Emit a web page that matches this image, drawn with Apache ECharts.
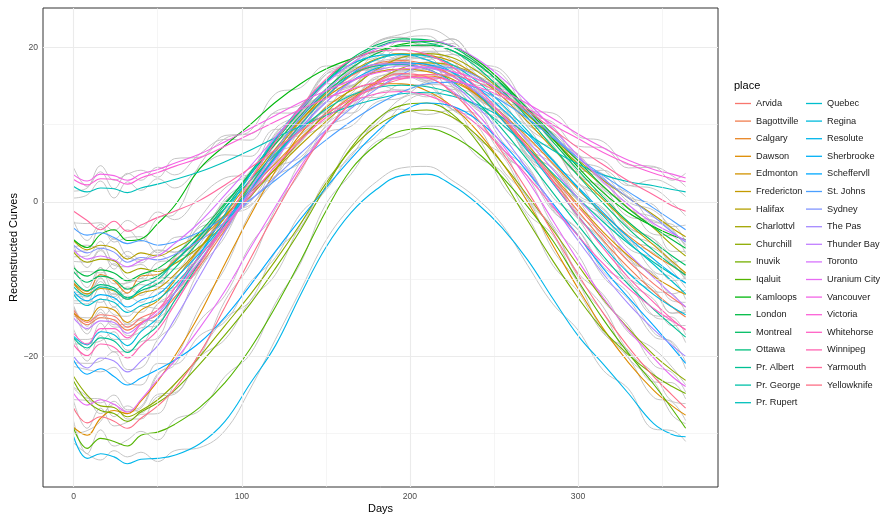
<!DOCTYPE html>
<html>
<head>
<meta charset="utf-8">
<title>Reconstructed Curves</title>
<script src="https://cdn.jsdelivr.net/npm/echarts@6/dist/echarts.min.js"></script>
<style>
  html, body { margin: 0; padding: 0; background: #fff; }
  #chart { width: 881px; height: 514px; }
</style>
</head>
<body>
<div id="chart"></div>
<script>
// day grid shared by every curve
const days = [0, 8, 16, 24, 32, 40, 50, 60, 75, 90, 105, 120, 135, 150, 165, 180, 195, 210, 225, 240, 255, 270, 285, 300, 315, 330, 345, 356, 364];

const places = ['Arvida', 'Bagottville', 'Calgary', 'Dawson', 'Edmonton', 'Fredericton', 'Halifax', 'Charlottvl', 'Churchill',
  'Inuvik', 'Iqaluit', 'Kamloops', 'London', 'Montreal', 'Ottawa', 'Pr. Albert', 'Pr. George', 'Pr. Rupert',
  'Quebec', 'Regina', 'Resolute', 'Sherbrooke', 'Scheffervll', 'St. Johns', 'Sydney', 'The Pas', 'Thunder Bay',
  'Toronto', 'Uranium City', 'Vancouver', 'Victoria', 'Whitehorse', 'Winnipeg', 'Yarmouth', 'Yellowknife'];

const xTicks = [0, 100, 200, 300];
const xMinor = [50, 150, 250, 350];
const yTicks = [-20, 0, 20];
const yMinor = [-30, -10, 10];

// reconstructed curves (coloured)
const arvida = [-14.0, -15.6, -14.6, -14.8, -16.2, -15.0, -14.0, -11.8, -7.8, -3.2, 1.5, 6.0, 10.1, 13.6, 16.3, 17.7, 18.1, 17.6, 16.3, 13.9, 10.7, 7.1, 3.2, -0.6, -4.3, -7.7, -10.6, -12.4, -13.6];
const bagottville = [-14.4, -15.9, -15.0, -15.3, -16.6, -15.6, -14.6, -12.4, -8.3, -3.6, 1.2, 5.8, 10.0, 13.6, 16.4, 17.9, 18.3, 17.8, 16.4, 13.9, 10.6, 6.8, 2.8, -1.2, -5.0, -8.5, -11.6, -13.6, -14.9];
const calgary = [-10.5, -11.6, -9.4, -10.2, -11.8, -9.6, -9.4, -7.6, -4.8, -1.8, 1.6, 5.0, 8.3, 11.2, 13.6, 15.3, 16.2, 16.3, 15.6, 13.9, 11.4, 8.4, 5.0, 1.6, -1.6, -4.4, -6.8, -8.3, -9.4];
const dawson = [-29.2, -30.2, -28.0, -27.0, -27.4, -25.8, -23.2, -20.0, -14.5, -8.0, -1.8, 4.0, 8.8, 12.2, 14.4, 15.3, 15.3, 14.4, 12.4, 9.2, 5.0, 0.0, -5.6, -11.2, -16.4, -20.8, -24.4, -26.4, -27.6];
const edmonton = [-14.4, -15.4, -13.6, -14.0, -15.6, -14.0, -12.8, -10.2, -6.0, -1.6, 2.8, 6.9, 10.6, 13.5, 15.6, 16.8, 17.2, 16.9, 15.9, 13.8, 10.9, 7.4, 3.5, -0.3, -3.9, -7.0, -9.6, -11.1, -12.0];
const fredericton = [-10.6, -11.9, -11.2, -11.5, -12.6, -11.8, -11.2, -9.4, -6.0, -2.0, 2.2, 6.5, 10.5, 14.0, 16.8, 18.5, 19.2, 19.0, 18.2, 16.3, 13.6, 10.4, 6.9, 3.5, 0.3, -2.8, -5.6, -7.7, -9.2];
const halifax = [-5.0, -6.2, -5.6, -6.0, -7.4, -6.6, -7.0, -6.0, -4.2, -1.7, 1.2, 4.2, 7.4, 10.4, 13.2, 15.6, 17.3, 18.0, 17.7, 16.3, 14.0, 11.3, 8.3, 5.4, 2.8, 0.5, -1.7, -3.4, -4.5];
const charlottvl = [-6.5, -7.8, -7.4, -7.6, -9.2, -8.6, -9.0, -8.0, -5.8, -2.8, 0.7, 4.3, 8.0, 11.5, 14.6, 17.1, 18.7, 19.2, 18.7, 16.9, 14.3, 11.3, 8.1, 4.9, 2.0, -0.8, -3.4, -5.6, -7.0];
const churchill = [-22.6, -25.0, -26.4, -26.6, -27.8, -27.0, -25.6, -23.6, -20.0, -16.0, -12.0, -7.6, -2.8, 2.4, 6.8, 9.8, 11.5, 11.9, 11.0, 8.6, 5.0, 0.8, -3.6, -8.2, -12.6, -16.4, -19.8, -21.8, -23.1];
const inuvik = [-23.2, -25.8, -27.0, -27.4, -28.4, -27.2, -26.0, -24.4, -21.0, -17.2, -13.2, -8.6, -3.6, 2.0, 7.0, 10.6, 12.5, 12.8, 11.4, 7.8, 3.0, -2.4, -7.6, -12.4, -16.6, -19.8, -22.4, -23.9, -24.8];
const iqaluit = [-29.3, -31.9, -30.6, -31.0, -31.6, -30.2, -29.8, -28.8, -26.6, -23.4, -19.0, -13.6, -7.6, -1.2, 4.2, 7.4, 9.2, 9.5, 8.5, 6.4, 3.2, -0.6, -5.0, -10.2, -15.2, -19.6, -23.6, -26.8, -29.3];
const kamloops = [-4.9, -5.9, -4.2, -3.6, -5.0, -4.8, -2.8, -0.5, 4.3, 7.3, 10.0, 12.9, 15.3, 17.2, 18.5, 19.5, 20.4, 20.8, 20.2, 18.3, 15.5, 12.0, 8.2, 4.5, 1.2, -1.4, -3.2, -4.3, -4.9];
const london = [-8.5, -9.6, -8.8, -9.2, -10.2, -9.4, -8.6, -7.0, -3.9, -0.2, 3.6, 7.5, 11.2, 14.6, 17.3, 19.2, 20.2, 20.3, 19.6, 17.8, 15.2, 12.1, 8.7, 5.3, 2.0, -0.9, -3.3, -4.9, -6.0];
const montreal = [-9.0, -10.4, -9.6, -10.0, -11.3, -10.4, -9.6, -7.8, -4.5, -0.4, 3.8, 8.0, 12.0, 15.6, 18.5, 20.3, 21.1, 21.0, 20.1, 18.0, 15.1, 11.6, 7.8, 4.1, 0.6, -2.6, -5.2, -7.0, -8.2];
const ottawa = [-10.1, -11.5, -10.7, -11.1, -12.4, -11.5, -10.6, -8.6, -5.0, -0.8, 3.5, 7.8, 11.8, 15.4, 18.3, 20.0, 20.8, 20.6, 19.6, 17.4, 14.4, 10.9, 7.1, 3.4, -0.2, -3.5, -6.3, -8.2, -9.5];
const prAlbert = [-17.6, -18.9, -17.6, -18.0, -19.5, -17.8, -16.0, -12.8, -7.8, -2.8, 2.1, 6.7, 10.9, 14.2, 16.5, 17.6, 17.8, 17.2, 15.6, 12.9, 9.4, 5.4, 1.2, -3.0, -7.0, -10.7, -13.9, -16.0, -17.5];
const prGeorge = [-11.0, -12.2, -11.0, -11.4, -12.6, -11.2, -10.0, -7.8, -4.4, -0.8, 2.8, 6.2, 9.4, 12.0, 13.8, 14.8, 15.1, 14.9, 14.1, 12.4, 10.0, 7.0, 3.7, 0.5, -2.6, -5.4, -7.8, -9.4, -10.5];
const prRupert = [2.0, 1.3, 1.8, 1.7, 1.2, 1.8, 2.3, 2.9, 3.9, 5.2, 6.7, 8.3, 9.8, 11.2, 12.4, 13.3, 14.0, 14.2, 13.7, 12.6, 10.9, 8.8, 6.7, 4.9, 3.5, 2.6, 2.1, 1.6, 1.3];
const quebec = [-12.0, -13.4, -12.6, -13.0, -14.3, -13.4, -12.6, -10.7, -7.1, -2.9, 1.5, 5.9, 10.0, 13.6, 16.5, 18.4, 19.1, 18.9, 17.8, 15.6, 12.6, 9.2, 5.4, 1.8, -1.8, -5.2, -8.1, -10.3, -11.9];
const regina = [-17.4, -18.5, -16.8, -17.2, -18.6, -16.8, -15.0, -11.8, -6.8, -1.6, 3.5, 8.2, 12.3, 15.6, 17.8, 18.9, 19.1, 18.4, 16.8, 14.1, 10.6, 6.6, 2.4, -1.8, -5.7, -9.2, -12.0, -13.6, -14.6];
const resolute = [-30.4, -33.2, -32.6, -33.0, -33.9, -33.3, -33.2, -32.8, -31.3, -28.4, -23.5, -18.6, -12.0, -5.9, -1.4, 1.6, 3.4, 3.6, 2.2, -0.2, -3.4, -7.5, -12.5, -17.3, -21.0, -24.8, -28.7, -30.1, -30.4];
const sherbrooke = [-11.6, -12.8, -12.0, -12.4, -13.6, -12.7, -12.0, -10.0, -6.6, -2.6, 1.6, 5.7, 9.6, 12.9, 15.6, 17.3, 18.0, 17.8, 16.8, 14.8, 12.0, 8.8, 5.3, 1.9, -1.4, -4.6, -7.4, -9.3, -10.5];
const scheffervll = [-20.5, -22.3, -21.6, -22.6, -23.7, -22.8, -21.7, -20.5, -18.2, -14.9, -10.8, -6.4, -2.2, 1.8, 5.6, 9.0, 11.6, 12.8, 12.4, 10.6, 7.6, 3.9, -0.2, -4.4, -8.6, -12.4, -16.0, -18.8, -20.9];
const stJohns = [-3.4, -4.3, -4.0, -4.6, -5.4, -5.0, -5.6, -5.2, -3.9, -2.0, 0.3, 2.8, 5.4, 8.0, 10.4, 12.5, 14.2, 15.3, 15.5, 14.7, 13.0, 10.8, 8.3, 5.7, 3.4, 1.3, -0.8, -2.4, -3.6];
const sydney = [-5.6, -6.6, -6.0, -6.5, -7.8, -7.2, -7.5, -6.8, -5.0, -2.6, 0.2, 3.2, 6.3, 9.3, 12.1, 14.6, 16.5, 17.5, 17.4, 16.2, 14.1, 11.5, 8.6, 5.7, 3.0, 0.5, -1.9, -3.9, -5.2];
const thePas = [-20.0, -21.5, -20.2, -20.6, -22.0, -20.6, -18.6, -15.2, -9.6, -3.9, 1.6, 6.6, 11.0, 14.5, 16.8, 17.8, 17.9, 17.2, 15.4, 12.4, 8.6, 4.2, -0.4, -5.0, -9.3, -13.2, -16.5, -18.6, -20.0];
const thunderBay = [-15.0, -16.4, -15.4, -15.6, -17.0, -15.8, -14.4, -11.8, -7.6, -3.2, 1.2, 5.5, 9.5, 12.9, 15.5, 17.0, 17.6, 17.4, 16.3, 14.2, 11.3, 7.9, 4.2, 0.5, -3.2, -6.7, -9.8, -12.0, -13.6];
const toronto = [-6.2, -7.4, -7.0, -7.5, -8.4, -7.6, -7.0, -5.4, -2.6, 0.9, 4.6, 8.4, 12.0, 15.3, 17.9, 19.8, 20.8, 20.9, 20.2, 18.5, 16.0, 12.9, 9.5, 6.0, 2.6, -0.4, -2.8, -4.1, -5.0];
const uraniumCity = [-24.8, -26.3, -25.6, -26.2, -27.2, -25.6, -23.0, -20.6, -16.3, -11.5, -6.0, -0.6, 4.6, 9.2, 12.8, 15.2, 16.2, 16.0, 14.4, 11.4, 7.4, 2.8, -2.4, -7.6, -12.4, -16.6, -20.2, -22.6, -23.9];
const vancouver = [3.5, 2.7, 3.6, 3.4, 2.8, 3.6, 4.2, 5.0, 6.2, 7.8, 9.5, 11.2, 12.9, 14.4, 15.7, 16.7, 17.2, 17.4, 16.9, 15.9, 14.4, 12.7, 10.8, 8.8, 7.0, 5.4, 4.2, 3.6, 3.1];
const victoria = [2.9, 2.2, 3.0, 2.9, 2.3, 3.1, 3.8, 4.6, 5.7, 7.2, 8.8, 10.4, 12.0, 13.4, 14.6, 15.5, 16.0, 16.1, 15.7, 14.9, 13.6, 12.1, 10.0, 8.2, 6.4, 4.9, 3.7, 3.0, 2.6];
const whitehorse = [-17.0, -18.4, -16.4, -16.4, -17.6, -15.8, -14.0, -11.2, -7.0, -3.2, 0.8, 4.6, 8.0, 10.9, 12.9, 14.0, 14.3, 13.8, 12.4, 10.0, 6.9, 3.3, -0.6, -4.4, -8.0, -11.2, -13.8, -15.4, -16.5];
const winnipeg = [-18.5, -19.9, -18.4, -18.8, -20.2, -18.6, -16.6, -13.3, -8.0, -2.6, 2.8, 7.8, 12.3, 15.9, 18.4, 19.5, 19.7, 19.1, 17.5, 14.8, 11.2, 7.0, 2.6, -1.8, -6.0, -9.8, -13.0, -15.2, -16.6];
const yarmouth = [-1.2, -2.4, -3.6, -2.5, -3.8, -3.0, -2.0, -1.2, 0.2, 2.2, 4.4, 6.8, 9.2, 11.4, 13.3, 14.8, 15.9, 16.5, 16.4, 15.5, 13.9, 11.8, 9.4, 7.0, 4.8, 2.7, 0.9, -0.5, -1.2];
const yellowknife = [-26.7, -28.6, -27.8, -28.4, -29.3, -28.0, -26.4, -24.2, -19.6, -13.6, -7.4, -1.4, 4.2, 9.0, 12.9, 15.5, 16.6, 16.2, 14.2, 10.8, 6.4, 1.4, -4.0, -9.4, -14.4, -18.8, -22.6, -25.0, -26.7];

// observed curves (grey, drawn underneath)
const arvidaObs = [-14.8, -15.0, -15.0, -13.6, -15.9, -15.9, -13.2, -12.3, -6.9, -3.8, 1.9, 5.2, 10.8, 13.3, 16.9, 17.2, 19.0, 18.8, 15.9, 14.6, 9.9, 7.6, 2.6, 0.2, -4.7, -7.1, -11.5, -11.9, -14.3];
const bagottvilleObs = [-13.5, -16.6, -13.9, -15.9, -15.8, -15.1, -15.6, -11.8, -8.7, -2.8, 0.5, 6.3, 9.7, 14.5, 15.8, 18.3, 17.6, 18.1, 17.2, 13.4, 11.2, 5.9, 3.5, -1.5, -4.2, -9.1, -11.2, -14.4, -14.3];
const calgaryObs = [-12.0, -12.0, -8.5, -11.4, -10.4, -9.9, -8.7, -8.7, -4.3, -0.9, 0.8, 6.1, 7.8, 11.6, 12.7, 16.0, 16.7, 15.7, 16.5, 13.5, 12.4, 7.7, 5.3, 0.6, -1.0, -4.9, -6.0, -7.9, -10.0];
const dawsonObs = [-30.0, -29.6, -28.4, -25.8, -27.1, -26.7, -22.4, -20.5, -13.6, -8.6, -1.4, 3.2, 9.5, 11.9, 15.0, 14.8, 16.2, 15.6, 12.0, 9.9, 4.2, 0.5, -6.2, -10.4, -16.8, -20.2, -25.3, -25.9, -28.3];
const edmontonObs = [-13.5, -16.1, -12.5, -14.6, -14.8, -13.5, -13.8, -9.6, -6.4, -0.8, 2.1, 7.4, 10.3, 14.4, 15.0, 17.2, 16.5, 17.2, 16.7, 13.3, 11.5, 6.5, 4.2, -0.6, -3.1, -7.6, -9.2, -11.9, -11.4];
const frederictonObs = [-12.1, -12.3, -10.3, -12.7, -11.2, -12.1, -10.5, -10.5, -5.5, -1.1, 1.4, 7.6, 10.0, 14.4, 15.9, 19.2, 19.7, 18.4, 19.1, 15.9, 14.6, 9.7, 7.2, 2.5, 0.9, -3.3, -4.8, -7.3, -9.8];
const halifaxObs = [-5.8, -5.6, -6.0, -4.8, -7.1, -7.5, -6.2, -6.5, -3.3, -2.3, 1.6, 3.4, 8.1, 10.1, 13.8, 15.1, 18.2, 19.2, 17.3, 17.0, 13.2, 11.8, 7.7, 6.2, 2.4, 1.1, -2.6, -2.9, -5.2];
const charlottvlObs = [-5.6, -8.5, -6.3, -8.2, -8.4, -8.1, -10.0, -7.4, -6.2, -2.0, 0.0, 4.8, 7.7, 12.4, 14.0, 17.5, 18.0, 19.5, 19.5, 16.4, 14.9, 10.4, 8.8, 4.6, 2.8, -1.4, -3.0, -6.4, -6.4];
const churchillObs = [-24.1, -25.4, -25.5, -27.8, -26.4, -27.3, -24.9, -24.7, -19.5, -15.1, -12.8, -6.5, -3.3, 2.8, 5.9, 10.5, 12.0, 11.3, 11.9, 8.2, 6.0, 0.1, -3.3, -9.2, -12.0, -16.9, -19.0, -21.4, -23.7];
const inuvikObs = [-24.0, -25.2, -27.4, -26.2, -28.1, -28.1, -25.2, -24.9, -20.1, -17.8, -12.8, -9.4, -2.9, 1.7, 7.6, 10.1, 13.4, 14.0, 11.0, 8.5, 2.2, -1.9, -8.2, -11.6, -17.0, -19.2, -23.3, -23.4, -25.5];
const iqaluitObs = [-28.4, -32.6, -29.5, -31.6, -30.8, -29.7, -30.8, -28.2, -27.0, -22.6, -19.7, -13.1, -7.9, -0.3, 3.6, 7.8, 8.5, 9.8, 9.3, 5.9, 3.8, -1.5, -4.3, -10.5, -14.4, -20.2, -23.2, -27.6, -28.7];
const kamloopsObs = [-6.4, -6.3, -3.3, -4.8, -3.6, -5.1, -2.1, -1.6, 4.8, 8.2, 9.2, 14.0, 14.8, 17.6, 17.6, 20.2, 20.9, 20.2, 21.1, 17.9, 16.5, 11.3, 8.5, 3.5, 1.8, -1.9, -2.4, -3.9, -5.5];
const londonObs = [-9.3, -9.0, -9.2, -8.0, -9.9, -10.3, -7.8, -7.5, -3.0, -0.8, 4.0, 6.7, 11.9, 14.3, 17.9, 18.7, 21.1, 21.5, 19.2, 18.5, 14.4, 12.6, 8.1, 6.1, 1.6, -0.3, -4.2, -4.4, -6.7];
const montrealObs = [-8.1, -11.1, -8.5, -10.6, -10.5, -9.9, -10.6, -7.2, -4.9, 0.4, 3.1, 8.5, 11.7, 16.5, 17.9, 20.7, 21.7, 22.4, 20.9, 17.5, 15.7, 10.7, 8.5, 3.8, 1.4, -3.2, -4.8, -7.8, -7.6];
const ottawaObs = [-11.6, -11.9, -9.8, -12.3, -11.0, -11.8, -9.9, -9.7, -4.5, 0.1, 2.7, 8.9, 11.3, 15.8, 17.4, 20.7, 21.3, 20.0, 20.5, 17.0, 15.4, 10.2, 7.4, 2.4, 0.4, -4.0, -5.5, -7.8, -10.1];
const prAlbertObs = [-18.4, -18.3, -18.0, -16.8, -19.2, -18.7, -15.2, -13.3, -6.9, -3.4, 2.5, 5.9, 11.6, 13.9, 17.1, 17.1, 18.7, 18.4, 15.2, 13.6, 8.6, 5.9, 0.6, -2.2, -7.4, -10.1, -14.8, -15.5, -18.2];
const prGeorgeObs = [-10.1, -12.9, -9.9, -12.0, -11.8, -10.7, -11.0, -7.2, -4.8, 0.0, 2.1, 6.7, 9.1, 12.9, 13.2, 15.2, 14.4, 15.2, 14.9, 11.9, 10.6, 6.1, 4.4, 0.2, -1.8, -6.0, -7.4, -10.2, -9.9];
const prRupertObs = [0.5, 0.9, 2.7, 0.5, 2.6, 1.5, 3.0, 1.8, 4.4, 6.1, 5.9, 9.4, 9.3, 11.6, 11.5, 14.0, 14.5, 13.6, 14.6, 12.2, 11.9, 8.1, 7.0, 3.9, 4.1, 2.1, 2.9, 2.0, 0.7];
const quebecObs = [-12.8, -12.8, -13.0, -11.8, -14.0, -14.3, -11.8, -11.2, -6.2, -3.5, 1.9, 5.1, 10.7, 13.3, 17.1, 17.9, 20.0, 20.1, 17.4, 16.3, 11.8, 9.7, 4.8, 2.6, -2.2, -4.6, -9.0, -9.8, -12.6];
const reginaObs = [-16.5, -19.2, -15.7, -17.8, -17.8, -16.3, -16.0, -11.2, -7.2, -0.8, 2.8, 8.7, 12.0, 16.5, 17.2, 19.3, 18.4, 18.7, 17.6, 13.6, 11.2, 5.7, 3.1, -2.1, -4.9, -9.8, -11.6, -14.4, -14.0];
const resoluteObs = [-31.2, -32.6, -33.4, -32.2, -33.0, -32.4, -33.6, -32.2, -31.8, -29.6, -24.2, -17.8, -11.4, -5.0, -0.6, 2.6, 4.4, 4.6, 2.8, 0.4, -3.0, -8.2, -13.2, -16.6, -21.8, -24.2, -29.4, -29.6, -31.0];
const sherbrookeObs = [-13.1, -13.2, -11.1, -13.6, -12.2, -13.0, -11.3, -11.1, -6.1, -1.7, 0.8, 6.8, 9.1, 13.3, 14.7, 18.0, 18.5, 17.2, 17.7, 14.4, 13.0, 8.1, 5.6, 0.9, -0.8, -5.1, -6.6, -8.9, -11.1];
const scheffervllObs = [-21.3, -21.7, -22.0, -21.4, -23.4, -23.7, -20.9, -21.0, -17.3, -15.5, -10.4, -7.2, -1.5, 1.5, 6.2, 8.5, 12.5, 14.0, 12.0, 11.3, 6.8, 4.4, -0.8, -3.6, -9.0, -11.8, -16.9, -18.3, -21.6];
const stJohnsObs = [-2.5, -5.0, -2.9, -5.2, -4.6, -4.5, -6.6, -4.6, -4.3, -1.2, -0.4, 3.3, 5.1, 8.9, 9.8, 12.9, 13.5, 15.6, 16.3, 14.2, 13.6, 9.9, 9.0, 5.4, 4.2, 0.7, -0.4, -3.2, -3.0];
const sydneyObs = [-7.1, -7.0, -5.1, -7.7, -6.4, -7.5, -6.8, -7.9, -4.5, -1.7, -0.6, 4.3, 5.8, 9.7, 11.2, 15.3, 17.0, 16.9, 18.3, 15.8, 15.1, 10.8, 8.9, 4.7, 3.6, 0.0, -1.1, -3.5, -5.8];
const thePasObs = [-20.8, -20.9, -20.6, -19.4, -21.7, -21.5, -17.8, -15.7, -8.7, -4.5, 2.0, 5.8, 11.7, 14.2, 17.4, 17.3, 18.8, 18.4, 15.0, 13.1, 7.8, 4.7, -1.0, -4.2, -9.7, -12.6, -17.4, -18.1, -20.7];
const thunderBayObs = [-14.1, -17.1, -14.3, -16.2, -16.2, -15.3, -15.4, -11.2, -8.0, -2.4, 0.5, 6.0, 9.2, 13.8, 14.9, 17.4, 16.9, 17.7, 17.1, 13.7, 11.9, 7.0, 4.9, 0.2, -2.4, -7.3, -9.4, -12.8, -13.0];
const torontoObs = [-7.7, -7.8, -6.1, -8.7, -7.0, -7.9, -6.3, -6.5, -2.1, 1.8, 3.8, 9.5, 11.5, 15.7, 17.0, 20.5, 21.3, 20.3, 21.1, 18.1, 17.0, 12.2, 9.8, 5.0, 3.2, -0.9, -2.0, -3.7, -5.6];
const uraniumCityObs = [-25.6, -25.7, -26.0, -25.0, -26.9, -26.5, -22.2, -21.1, -15.4, -12.1, -5.6, -1.4, 5.3, 8.9, 13.4, 14.7, 17.1, 17.2, 14.0, 12.1, 6.6, 3.3, -3.0, -6.8, -12.8, -16.0, -21.1, -22.1, -24.6];
const vancouverObs = [4.4, 2.0, 4.7, 2.8, 3.6, 4.1, 3.2, 5.6, 5.8, 8.6, 8.8, 11.7, 12.6, 15.3, 15.1, 17.1, 16.5, 17.7, 17.7, 15.4, 15.0, 11.8, 11.5, 8.5, 7.8, 4.8, 4.6, 2.8, 3.7];
const victoriaObs = [1.4, 1.8, 3.9, 1.7, 3.7, 2.8, 4.5, 3.5, 6.2, 8.1, 8.0, 11.5, 11.5, 13.8, 13.7, 16.2, 16.5, 15.5, 16.6, 14.5, 14.6, 11.4, 10.3, 7.2, 7.0, 4.4, 4.5, 3.4, 2.0];
const whitehorseObs = [-17.8, -17.8, -16.8, -15.2, -17.3, -16.7, -13.2, -11.7, -6.1, -3.8, 1.2, 3.8, 8.7, 10.6, 13.5, 13.5, 15.2, 15.0, 12.0, 10.7, 6.1, 3.8, -1.2, -3.6, -8.4, -10.6, -14.7, -14.9, -17.2];
const winnipegObs = [-17.6, -20.6, -17.3, -19.4, -19.4, -18.1, -17.6, -12.7, -8.4, -1.8, 2.1, 8.3, 12.0, 16.8, 17.8, 19.9, 19.0, 19.4, 18.3, 14.3, 11.8, 6.1, 3.3, -2.1, -5.2, -10.4, -12.6, -16.0, -16.0];
const yarmouthObs = [-2.7, -2.8, -2.7, -3.7, -2.4, -3.3, -1.3, -2.3, 0.7, 3.1, 3.6, 7.9, 8.7, 11.8, 12.4, 15.5, 16.4, 15.9, 17.3, 15.1, 14.9, 11.1, 9.7, 6.0, 5.4, 2.2, 1.7, -0.1, -1.8];
const yellowknifeObs = [-25.8, -29.3, -26.7, -29.0, -28.5, -27.5, -27.4, -23.6, -20.0, -12.8, -8.1, -0.9, 3.9, 9.9, 12.3, 15.9, 15.9, 16.5, 15.0, 10.3, 7.0, 0.5, -3.3, -9.7, -13.6, -19.4, -22.2, -25.8, -26.1];

// same order as places
const curves = [arvida, bagottville, calgary, dawson, edmonton, fredericton, halifax, charlottvl, churchill,
  inuvik, iqaluit, kamloops, london, montreal, ottawa, prAlbert, prGeorge, prRupert,
  quebec, regina, resolute, sherbrooke, scheffervll, stJohns, sydney, thePas, thunderBay,
  toronto, uraniumCity, vancouver, victoria, whitehorse, winnipeg, yarmouth, yellowknife];
const observed = [arvidaObs, bagottvilleObs, calgaryObs, dawsonObs, edmontonObs, frederictonObs, halifaxObs, charlottvlObs, churchillObs,
  inuvikObs, iqaluitObs, kamloopsObs, londonObs, montrealObs, ottawaObs, prAlbertObs, prGeorgeObs, prRupertObs,
  quebecObs, reginaObs, resoluteObs, sherbrookeObs, scheffervllObs, stJohnsObs, sydneyObs, thePasObs, thunderBayObs,
  torontoObs, uraniumCityObs, vancouverObs, victoriaObs, whitehorseObs, winnipegObs, yarmouthObs, yellowknifeObs];

// ggplot-like hue palette: hcl(h, c = 100, l = 65)
function hcl(h, c, l) {
  const hr = h * Math.PI / 180;
  const Xn = 95.047, Yn = 100, Zn = 108.883;
  const un = 4 * Xn / (Xn + 15 * Yn + 3 * Zn);
  const vn = 9 * Yn / (Xn + 15 * Yn + 3 * Zn);
  const Y = Yn * Math.pow((l + 16) / 116, 3);
  const u = c * Math.cos(hr) / (13 * l) + un;
  const v = c * Math.sin(hr) / (13 * l) + vn;
  const X = Y * 9 * u / (4 * v);
  const Z = Y * (12 - 3 * u - 20 * v) / (4 * v);
  const x = X / 100, y = Y / 100, z = Z / 100;
  const lin = [
    3.240479 * x - 1.537150 * y - 0.498535 * z,
    -0.969256 * x + 1.875992 * y + 0.041556 * z,
    0.055648 * x - 0.204043 * y + 1.057311 * z
  ];
  return '#' + lin.map(function (ch) {
    let s = ch <= 0.0031308 ? 12.92 * ch : 1.055 * Math.pow(ch, 1 / 2.4) - 0.055;
    s = Math.max(0, Math.min(1, s));
    return Math.round(s * 255).toString(16).padStart(2, '0');
  }).join('');
}
const colors = places.map((p, i) => hcl(15 + i * 360 / places.length, 100, 65));

const series = [];

// panel grid lines (theme_bw look)
const gridLines = [];
xTicks.forEach(v => gridLines.push({ xAxis: v, lineStyle: { color: '#EBEBEB', width: 1.1 } }));
xMinor.forEach(v => gridLines.push({ xAxis: v, lineStyle: { color: '#EFEFEF', width: 0.6 } }));
yTicks.forEach(v => gridLines.push({ yAxis: v, lineStyle: { color: '#EBEBEB', width: 1.1 } }));
yMinor.forEach(v => gridLines.push({ yAxis: v, lineStyle: { color: '#EFEFEF', width: 0.6 } }));
series.push({
  name: 'grid',
  type: 'line',
  data: [],
  silent: true,
  z: 1,
  markLine: {
    silent: true,
    symbol: 'none',
    label: { show: false },
    lineStyle: { type: 'solid' },
    data: gridLines
  }
});

observed.forEach((vals, i) => {
  series.push({
    name: places[i] + ' (observed)',
    type: 'line',
    data: days.map((d, k) => [d, vals[k]]),
    smooth: 0.4,
    symbol: 'none',
    silent: true,
    z: 2,
    lineStyle: { color: '#BEBEBE', width: 0.9 }
  });
});

curves.forEach((vals, i) => {
  series.push({
    name: places[i],
    type: 'line',
    data: days.map((d, k) => [d, vals[k]]),
    smooth: 0.4,
    symbol: 'none',
    z: 3,
    itemStyle: { color: colors[i] },
    lineStyle: { color: colors[i], width: 1.1 }
  });
});

const fontFamily = '"Liberation Sans", Arial, Helvetica, sans-serif';
// legend keys: thin line, one row every 17.6px
const legendBase = {
  orient: 'vertical',
  top: 94.7,
  padding: 0,
  icon: 'rect',
  itemWidth: 16,
  itemHeight: 1.3,
  itemGap: 0,
  selectedMode: false,
  textStyle: { fontSize: 9.2, lineHeight: 17.6, color: '#1A1A1A', fontFamily: fontFamily }
};

let chart = echarts.init(document.getElementById('chart'), null, { renderer: 'canvas' });
chart.setOption({
  animation: false,
  backgroundColor: '#fff',
  title: {
    text: 'place',
    left: 734,
    top: 80,
    padding: 0,
    textStyle: { fontSize: 11, fontWeight: 'normal', color: '#000', fontFamily: fontFamily }
  },
  legend: [
    Object.assign({}, legendBase, { left: 735, data: places.slice(0, 18) }),
    Object.assign({}, legendBase, { left: 806, data: places.slice(18) })
  ],
  grid: {
    left: 43,
    right: 163,
    top: 8,
    bottom: 27,
    outerBoundsMode: 'none',
    containLabel: false,
    show: true,
    borderColor: '#333',
    borderWidth: 1,
    backgroundColor: 'transparent'
  },
  xAxis: {
    type: 'value',
    min: -18.25,
    max: 383.25,
    name: 'Days',
    nameLocation: 'middle',
    nameGap: 16,
    nameMoveOverlap: false,
    nameTextStyle: { fontSize: 11, color: '#000', fontFamily: fontFamily },
    axisLine: { show: false },
    splitLine: { show: false },
    axisTick: { show: true, length: 3, customValues: xTicks, lineStyle: { color: '#333' } },
    axisLabel: { customValues: xTicks, fontSize: 8.6, color: '#4D4D4D', margin: 5, fontFamily: fontFamily }
  },
  yAxis: {
    type: 'value',
    min: -36.9,
    max: 25.1,
    name: 'Reconstructed Curves',
    nameLocation: 'middle',
    nameGap: 24,
    nameMoveOverlap: false,
    nameTextStyle: { fontSize: 11, color: '#000', fontFamily: fontFamily },
    axisLine: { show: false },
    splitLine: { show: false },
    axisTick: { show: true, length: 3, customValues: yTicks, lineStyle: { color: '#333' } },
    axisLabel: {
      customValues: yTicks,
      fontSize: 8.6,
      color: '#4D4D4D',
      margin: 5,
      fontFamily: fontFamily,
      formatter: function (v) { return String(v).replace('-', '\u2212'); }
    }
  },
  series: series
});
</script>
</body>
</html>
